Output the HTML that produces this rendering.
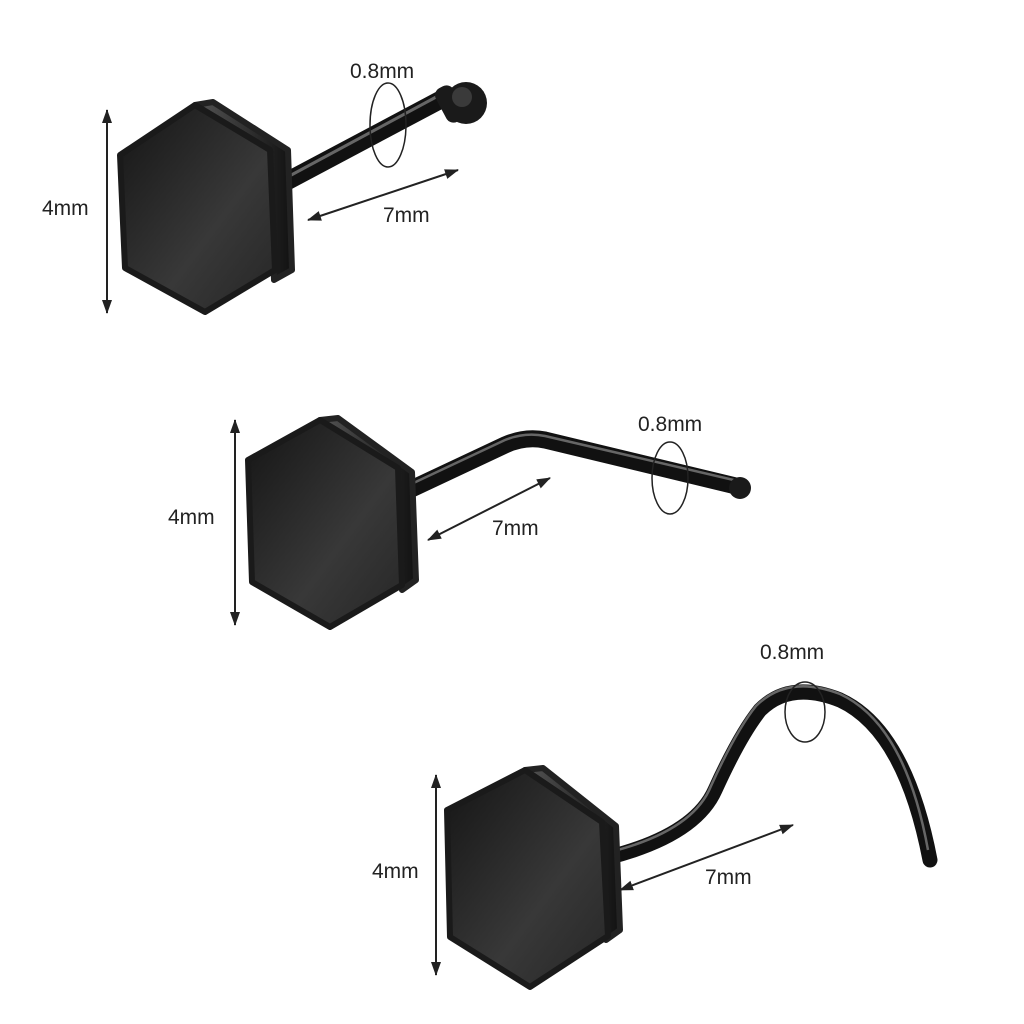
<!DOCTYPE html>
<html><head><meta charset="utf-8"><style>
html,body{margin:0;padding:0;background:#fff;}
svg{display:block;}
text{font-family:"Liberation Sans",sans-serif;font-size:21px;fill:#222;}
</style></head><body>
<svg width="1024" height="1024" viewBox="0 0 1024 1024" xmlns="http://www.w3.org/2000/svg">
<defs>
<linearGradient id="face" x1="0" y1="0" x2="1" y2="1">
<stop offset="0" stop-color="#151515"/><stop offset="0.6" stop-color="#383838"/><stop offset="1" stop-color="#262626"/>
</linearGradient>
<linearGradient id="side" x1="0" y1="0" x2="1" y2="0">
<stop offset="0" stop-color="#555"/><stop offset="1" stop-color="#111"/>
</linearGradient>
<marker id="ah" markerWidth="14" markerHeight="12" refX="13" refY="6" orient="auto-start-reverse" markerUnits="userSpaceOnUse">
<path d="M0,1 L14,6 L0,11 Z" fill="#222"/></marker>
</defs>

<!-- Item 1 -->
<path d="M280,185 L440,100" stroke="#111" stroke-width="18" stroke-linecap="round"/>
<path d="M282,180 L438,96" stroke="#666" stroke-width="3"/>
<rect x="440" y="85" width="20" height="38" rx="8" fill="#1a1a1a" transform="rotate(-28 450 104)"/>
<circle cx="466" cy="103" r="21" fill="#1a1a1a"/>
<circle cx="462" cy="97" r="10" fill="#3a3a3a"/>
<path d="M195,105 L213,102 L288,150 L292,270 L274,280 L270,150 Z" fill="url(#side)" stroke="#222" stroke-width="6" stroke-linejoin="round"/>
<path d="M120,155 L195,105 L270,150 L275,270 L205,312 L125,268 Z" fill="url(#face)" stroke="#1a1a1a" stroke-width="6" stroke-linejoin="round"/>
<ellipse cx="388" cy="125" rx="18" ry="42" fill="none" stroke="#222" stroke-width="1.5"/>
<line x1="107" y1="110" x2="107" y2="313" stroke="#222" stroke-width="2" marker-start="url(#ah)" marker-end="url(#ah)"/>
<line x1="308" y1="220" x2="458" y2="170" stroke="#222" stroke-width="2" marker-start="url(#ah)" marker-end="url(#ah)"/>
<text x="42" y="215">4mm</text>
<text x="383" y="222">7mm</text>
<text x="350" y="78">0.8mm</text>

<!-- Item 2 -->
<path d="M405,492 L505,445 Q525,436 545,440 L740,487" fill="none" stroke="#111" stroke-width="17" stroke-linecap="round"/>
<path d="M405,487 L505,440 Q525,432 545,436 L738,481" fill="none" stroke="#666" stroke-width="2.5"/>
<circle cx="740" cy="488" r="11" fill="#1a1a1a"/>
<path d="M320,420 L338,418 L412,472 L416,580 L402,590 L398,468 Z" fill="url(#side)" stroke="#222" stroke-width="6" stroke-linejoin="round"/>
<path d="M248,460 L320,420 L398,468 L402,585 L330,627 L252,582 Z" fill="url(#face)" stroke="#1a1a1a" stroke-width="6" stroke-linejoin="round"/>
<ellipse cx="670" cy="478" rx="18" ry="36" fill="none" stroke="#222" stroke-width="1.5"/>
<line x1="235" y1="420" x2="235" y2="625" stroke="#222" stroke-width="2" marker-start="url(#ah)" marker-end="url(#ah)"/>
<line x1="428" y1="540" x2="550" y2="478" stroke="#222" stroke-width="2" marker-start="url(#ah)" marker-end="url(#ah)"/>
<text x="168" y="524">4mm</text>
<text x="492" y="535">7mm</text>
<text x="638" y="431">0.8mm</text>

<!-- Item 3 -->
<path d="M610,857 Q695,835 715,790 Q740,735 760,710 Q790,680 840,700 Q905,730 930,860" fill="none" stroke="#111" stroke-width="15" stroke-linecap="round"/>
<path d="M610,852 Q693,831 711,786 Q736,731 756,706 Q788,674 840,694 Q905,724 928,850" fill="none" stroke="#666" stroke-width="2.5"/>
<path d="M525,770 L543,768 L616,826 L620,930 L606,940 L602,822 Z" fill="url(#side)" stroke="#222" stroke-width="6" stroke-linejoin="round"/>
<path d="M447,810 L525,770 L602,822 L608,936 L530,987 L450,937 Z" fill="url(#face)" stroke="#1a1a1a" stroke-width="6" stroke-linejoin="round"/>
<ellipse cx="805" cy="712" rx="20" ry="30" fill="none" stroke="#222" stroke-width="1.5"/>
<line x1="436" y1="775" x2="436" y2="975" stroke="#222" stroke-width="2" marker-start="url(#ah)" marker-end="url(#ah)"/>
<line x1="620" y1="890" x2="793" y2="825" stroke="#222" stroke-width="2" marker-start="url(#ah)" marker-end="url(#ah)"/>
<text x="372" y="878">4mm</text>
<text x="705" y="884">7mm</text>
<text x="760" y="659">0.8mm</text>
</svg>
</body></html>
